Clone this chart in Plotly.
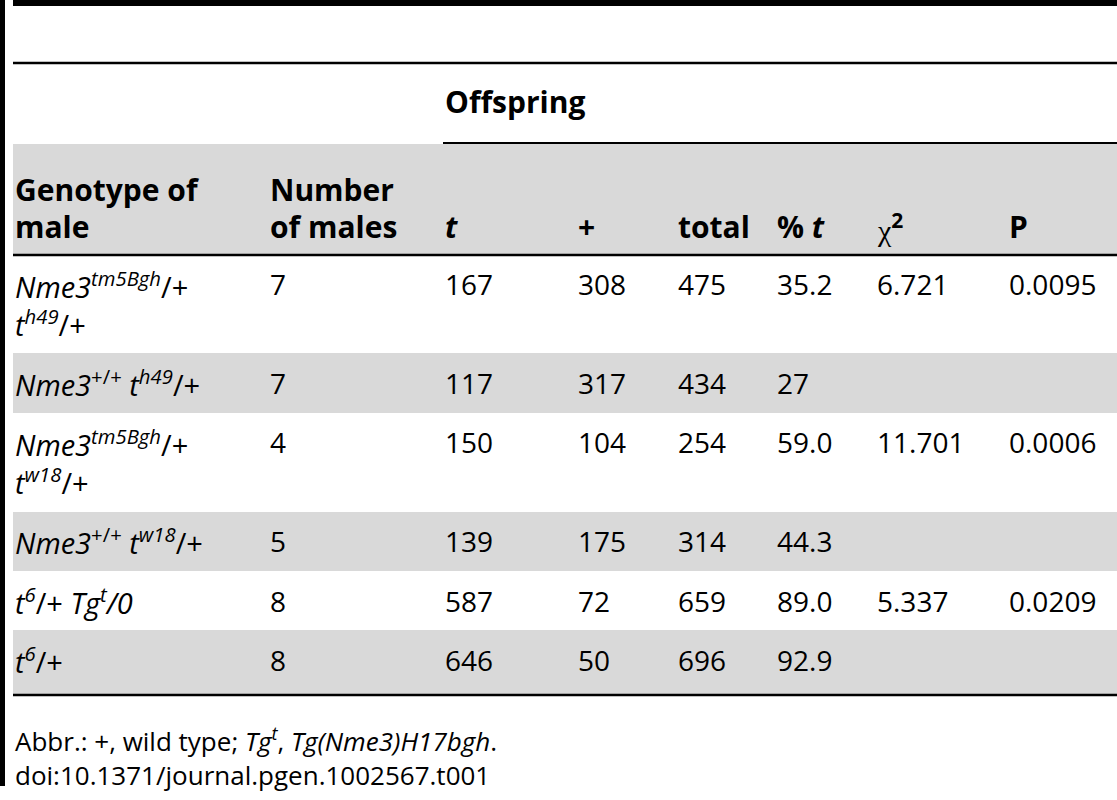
import plotly.graph_objects as go

# table content
header_top = "Offspring"
headers = [
    ["Genotype of", "male"],
    ["Number", "of males"],
    ["", "<i>t</i>"],
    ["", "+"],
    ["", "total"],
    ["", "% <i>t</i>"],
    ["", "<span style=\"font-family:Liberation Serif;font-weight:normal\">χ</span><sup>2</sup>"],
    ["", "P"],
]
genotypes = [
    ["<i>Nme3</i><sup><i>tm5Bgh</i></sup>/+", "<i>t</i><sup><i>h49</i></sup>/+"],
    ["<i>Nme3</i><sup>+/+</sup> <i>t</i><sup><i>h49</i></sup>/+"],
    ["<i>Nme3</i><sup><i>tm5Bgh</i></sup>/+", "<i>t</i><sup><i>w18</i></sup>/+"],
    ["<i>Nme3</i><sup>+/+</sup> <i>t</i><sup><i>w18</i></sup>/+"],
    ["<i>t</i><sup><i>6</i></sup>/+ <i>Tg</i><sup><i>t</i></sup><i>/0</i>"],
    ["<i>t</i><sup><i>6</i></sup>/+"],
]
n_males = ["7", "7", "4", "5", "8", "8"]
t_count = ["167", "117", "150", "139", "587", "646"]
plus_count = ["308", "317", "104", "175", "72", "50"]
total = ["475", "434", "254", "314", "659", "696"]
pct_t = ["35.2", "27", "59.0", "44.3", "89.0", "92.9"]
chi2 = ["6.721", "", "11.701", "", "5.337", ""]
p_val = ["0.0095", "", "0.0006", "", "0.0209", ""]
footnotes = [
    "Abbr.: +, wild type; <i>Tg</i><sup><i>t</i></sup>, <i>Tg(Nme3)H17bgh</i>.",
    "doi:10.1371/journal.pgen.1002567.t001",
]

# layout (pixel space)
W, H = 1117, 800
FONT = "Open Sans"
FS_HEAD = 30
FS_GENO = 29
FS_NUM = 28
FS_NOTE = 26
col_x = [13, 268, 443, 576, 676, 775, 875, 1007]
row_top = [256, 353, 413, 512, 571, 630]
row_bot = [353, 413, 512, 571, 630, 694]
row_first_y = [284, 383, 442, 541, 601, 660]
gray = "#d9d9d9"

fig = go.Figure()
fig.add_trace(go.Scatter(x=[0, W], y=[0, H], mode="markers",
                         marker=dict(opacity=0), hoverinfo="skip", showlegend=False))

shapes = []
# left black bar
shapes.append(dict(type="rect", x0=0, x1=5, y0=0, y1=786, fillcolor="black", line_width=0))
# header band
shapes.append(dict(type="rect", x0=13, x1=W, y0=144, y1=255, fillcolor=gray, line_width=0, layer="below"))
for i in range(len(row_top)):
    if i % 2 == 1:
        shapes.append(dict(type="rect", x0=13, x1=W, y0=row_top[i], y1=row_bot[i],
                           fillcolor=gray, line_width=0, layer="below"))
# rules
shapes.append(dict(type="line", x0=13, x1=W, y0=3, y1=3, line=dict(color="black", width=6)))
shapes.append(dict(type="line", x0=13, x1=W, y0=63, y1=63, line=dict(color="black", width=2.5)))
shapes.append(dict(type="line", x0=443, x1=W, y0=143, y1=143, line=dict(color="black", width=2)))
shapes.append(dict(type="line", x0=13, x1=W, y0=255, y1=255, line=dict(color="black", width=2.5)))
shapes.append(dict(type="line", x0=13, x1=W, y0=695, y1=695, line=dict(color="black", width=2.5)))

ann = []


def txt(x, y, s, size, bold=False, anchor="middle"):
    if bold and s:
        s = "<b>" + s + "</b>"
    ann.append(dict(x=x, y=y, text=s, xref="x", yref="y", xanchor="left", yanchor=anchor,
                    align="left", showarrow=False,
                    font=dict(family=FONT, size=size, color="black")))


txt(col_x[2], 101, header_top, FS_HEAD, bold=True)
for c, (l1, l2) in enumerate(headers):
    if l1:
        txt(col_x[c], 189, l1, FS_HEAD, bold=True)
    txt(col_x[c], 226, l2, FS_HEAD, bold=True)

cols = [n_males, t_count, plus_count, total, pct_t, chi2, p_val]
line_gap = 39
for r in range(len(genotypes)):
    n = len(genotypes[r])
    yc = row_first_y[r] + line_gap * (n - 1) / 2
    txt(col_x[0], yc, "<br>".join(genotypes[r]), FS_GENO)
    for c, vals in enumerate(cols):
        if vals[r]:
            txt(col_x[c + 1], row_first_y[r], vals[r], FS_NUM)

txt(13, 757, "<br>".join(footnotes), FS_NOTE)

fig.update_layout(
    width=W, height=H, margin=dict(l=0, r=0, t=0, b=0),
    paper_bgcolor="white", plot_bgcolor="white",
    xaxis=dict(range=[0, W], visible=False, fixedrange=True),
    yaxis=dict(range=[H, 0], visible=False, fixedrange=True),
    shapes=shapes, annotations=ann, showlegend=False,
)
fig.write_html("out.html", config={"displayModeBar": False},
               post_script="document.body.style.margin='0';")
